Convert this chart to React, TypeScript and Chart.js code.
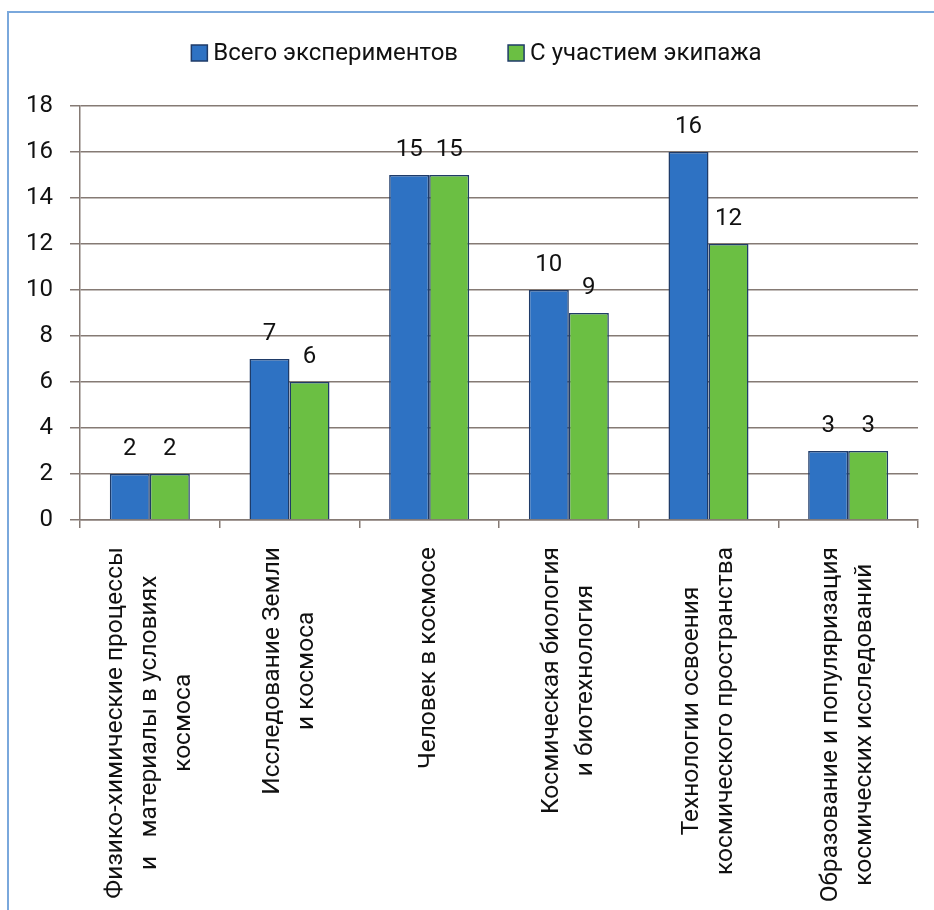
import React, { useEffect, useRef } from "react";
import { Chart, registerables } from "chart.js";

Chart.register(...registerables);

const categories: string[][] = [
  ["Физико-химические процессы", "и   материалы в условиях", "космоса"],
  ["Исследование Земли", "и космоса"],
  ["Человек в космосе"],
  ["Космическая биология", "и биотехнология"],
  ["Технологии освоения", "космического пространства"],
  ["Образование и популяризация", "космических исследований"],
];
const seriesNames = ["Всего экспериментов", "С участием экипажа"];
const totalExperiments = [2, 7, 15, 10, 16, 3];
const withCrew = [2, 6, 15, 9, 12, 3];
const yMin = 0;
const yMax = 18;
const yStep = 2;

const FONT = "Roboto, 'Liberation Sans', sans-serif";
const BLUE = "#2e72c3";
const GREEN = "#6bbf43";
const BAR_BORDER = "#1f3b68";
const GRID = "#857a74";
const TEXT = "#111111";

const CAT_FONT_SIZE = 24.5;
const CAT_LINE = 34;
const CAT_GAP = 27;

const valueLabels = {
  id: "valueLabels",
  afterDatasetsDraw(chart: any) {
    const ctx = chart.ctx;
    ctx.save();
    ctx.font = `24px ${FONT}`;
    ctx.fillStyle = TEXT;
    ctx.textAlign = "center";
    ctx.textBaseline = "middle";
    chart.data.datasets.forEach((ds: any, di: number) => {
      const meta = chart.getDatasetMeta(di);
      meta.data.forEach((el: any, i: number) => {
        ctx.fillText(String(ds.data[i]), el.x, el.y - 25);
      });
    });
    ctx.restore();
  },
};

const categoryLabels = {
  id: "categoryLabels",
  afterDraw(chart: any) {
    const ctx = chart.ctx;
    const xs = chart.scales.x;
    ctx.save();
    ctx.font = `${CAT_FONT_SIZE}px ${FONT}`;
    ctx.fillStyle = TEXT;
    ctx.textAlign = "center";
    ctx.textBaseline = "middle";
    (chart.data.labels as string[][]).forEach((lines, i) => {
      const cx = xs.getPixelForValue(i);
      const w = Math.max(...lines.map((l) => ctx.measureText(l).width));
      const cy = xs.top + CAT_GAP + w / 2;
      const n = lines.length;
      lines.forEach((line, j) => {
        const lx = cx + (j - (n - 1) / 2) * CAT_LINE;
        ctx.save();
        ctx.translate(lx, cy);
        ctx.rotate(-Math.PI / 2);
        ctx.fillText(line, 0, 0);
        ctx.restore();
      });
    });
    ctx.restore();
  },
};

const customLegend = {
  id: "customLegend",
  afterDraw(chart: any) {
    const ctx = chart.ctx;
    ctx.save();
    ctx.font = `24px ${FONT}`;
    ctx.textBaseline = "middle";
    ctx.textAlign = "left";
    const box = 16;
    const gapBoxText = 6;
    const itemGap = 50;
    const items = chart.data.datasets.map((ds: any) => ({
      text: ds.label,
      color: ds.backgroundColor,
      w: ctx.measureText(ds.label).width,
    }));
    const total = items.reduce((s: number, it: any) => s + box + gapBoxText + it.w, 0) + itemGap * (items.length - 1);
    let x = chart.width / 2 - total / 2 + 5;
    const y = 40;
    items.forEach((it: any) => {
      ctx.fillStyle = it.color;
      ctx.fillRect(x, y - box / 2, box, box);
      ctx.strokeStyle = BAR_BORDER;
      ctx.lineWidth = 1.5;
      ctx.strokeRect(x, y - box / 2, box, box);
      x += box + gapBoxText;
      ctx.fillStyle = TEXT;
      ctx.fillText(it.text, x, y + 1);
      x += it.w + itemGap;
    });
    ctx.restore();
  },
};

export default function App() {
  const ref = useRef<HTMLCanvasElement | null>(null);
  useEffect(() => {
    if (!ref.current) return;
    const chart = new Chart(ref.current, {
      type: "bar",
      data: {
        labels: categories,
        datasets: [
          {
            label: seriesNames[0],
            data: totalExperiments,
            backgroundColor: BLUE,
            borderColor: BAR_BORDER,
            borderWidth: 1.5,
            categoryPercentage: 0.573,
            barPercentage: 1,
          },
          {
            label: seriesNames[1],
            data: withCrew,
            backgroundColor: GREEN,
            borderColor: BAR_BORDER,
            borderWidth: 1.5,
            categoryPercentage: 0.573,
            barPercentage: 1,
          },
        ],
      },
      options: {
        animation: false,
        responsive: false,
        devicePixelRatio: 1,
        layout: { padding: { left: 0, right: 16, top: 93, bottom: 0 } },
        plugins: {
          legend: { display: false },
          tooltip: { enabled: false },
        },
        scales: {
          x: {
            grid: {
              drawOnChartArea: false,
              drawTicks: true,
              tickLength: 8,
              color: GRID,
              lineWidth: 1.5,
              offset: true,
            },
            border: { display: true, color: GRID, width: 1.5 },
            ticks: { display: false },
            afterFit: (s: any) => {
              s.height = 390;
            },
          },
          y: {
            min: yMin,
            max: yMax,
            ticks: {
              stepSize: yStep,
              color: TEXT,
              font: { family: FONT, size: 24 },
              padding: 17,
            },
            grid: { color: GRID, lineWidth: 1.5, tickLength: 10, drawTicks: true },
            border: { display: true, color: GRID, width: 1.5 },
            afterFit: (s: any) => {
              s.width = 71;
            },
          },
        },
      },
      plugins: [valueLabels, categoryLabels, customLegend],
    });
    return () => chart.destroy();
  }, []);
  return (
    <div
      style={{
        position: "absolute",
        left: 7,
        top: 11,
        width: 925,
        height: 897,
        borderLeft: "2px solid #7aa8dc",
        borderTop: "2px solid #7aa8dc",
        background: "#ffffff",
        overflow: "hidden",
      }}
    >
      <canvas ref={ref} width={925} height={897} style={{ display: "block" }} />
    </div>
  );
}
